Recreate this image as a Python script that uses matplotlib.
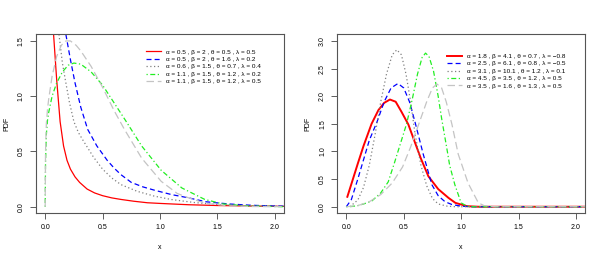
import matplotlib
matplotlib.use("Agg")
from matplotlib import pyplot as plt

plt.rcParams['font.family'] = ['Liberation Sans', 'DejaVu Sans']

# left panel curves
l1_x = [0.073, 0.10, 0.13, 0.16, 0.19, 0.22, 0.26, 0.30, 0.365, 0.43, 0.50, 0.58, 0.66, 0.77, 0.89, 1.0, 1.25, 1.5, 1.75, 2.0, 2.1]
l1_y = [1.56, 1.15, 0.77, 0.55, 0.42, 0.34, 0.27, 0.22, 0.16, 0.125, 0.10, 0.08, 0.066, 0.05, 0.036, 0.03, 0.018, 0.011, 0.007, 0.004, 0.003]

l2_x = [0.18, 0.22, 0.26, 0.31, 0.37, 0.45, 0.54, 0.60, 0.66, 0.75, 0.85, 0.95, 1.1, 1.25, 1.4, 1.6, 1.8, 2.0, 2.1]
l2_y = [1.56, 1.33, 1.12, 0.90, 0.70, 0.55, 0.42, 0.35, 0.29, 0.22, 0.18, 0.15, 0.11, 0.08, 0.045, 0.025, 0.013, 0.007, 0.005]

l3_x = [0.12, 0.15, 0.175, 0.21, 0.25, 0.29, 0.33, 0.42, 0.50, 0.58, 0.66, 0.80, 0.95, 1.1, 1.3, 1.5, 1.75, 2.0, 2.1]
l3_y = [1.56, 1.30, 1.15, 0.95, 0.77, 0.67, 0.60, 0.45, 0.34, 0.26, 0.20, 0.14, 0.096, 0.065, 0.038, 0.02, 0.01, 0.005, 0.004]

l4_x = [0.0, 0.003, 0.01, 0.02, 0.03, 0.06, 0.10, 0.15, 0.20, 0.25, 0.31, 0.40, 0.50, 0.60, 0.70, 0.84, 1.01, 1.19, 1.39, 1.55, 1.75, 2.1]
l4_y = [0.0, 0.40, 0.65, 0.78, 0.85, 1.00, 1.12, 1.22, 1.28, 1.30, 1.29, 1.22, 1.10, 0.94, 0.78, 0.55, 0.33, 0.17, 0.066, 0.025, 0.007, 0.0]

l5_x = [0.0, 0.003, 0.01, 0.02, 0.03, 0.06, 0.10, 0.14, 0.18, 0.22, 0.27, 0.31, 0.40, 0.50, 0.60, 0.69, 0.84, 1.01, 1.15, 1.25, 1.4, 1.6, 1.8, 2.1]
l5_y = [0.0, 0.50, 0.75, 0.88, 0.97, 1.18, 1.36, 1.46, 1.50, 1.50, 1.46, 1.41, 1.27, 1.08, 0.87, 0.70, 0.44, 0.23, 0.12, 0.08, 0.03, 0.008, 0.002, 0.0]

left_labels = ["α = 0.5 , β = 2 , θ = 0.5 , λ = 0.5",
               "α = 0.5 , β = 2 , θ = 1.6 , λ = 0.2",
               "α = 0.6 , β = 1.5 , θ = 0.7 , λ = 0.4",
               "α = 1.1 , β = 1.5 , θ = 1.2 , λ = 0.2",
               "α = 1.1 , β = 1.5 , θ = 1.2 , λ = 0.5"]

# right panel curves
r1_x = [0.009, 0.05, 0.10, 0.15, 0.22, 0.28, 0.33, 0.38, 0.43, 0.48, 0.54, 0.60, 0.65, 0.715, 0.80, 0.89, 0.95, 1.05, 1.15, 2.1]
r1_y = [0.18, 0.45, 0.78, 1.10, 1.50, 1.75, 1.88, 1.94, 1.90, 1.72, 1.49, 1.15, 0.87, 0.55, 0.32, 0.16, 0.07, 0.01, 0.0, 0.0]

r2_x = [0.0, 0.044, 0.10, 0.15, 0.20, 0.27, 0.33, 0.39, 0.45, 0.50, 0.55, 0.60, 0.67, 0.745, 0.80, 0.86, 0.92, 1.0, 1.1, 2.1]
r2_y = [0.0, 0.13, 0.50, 0.85, 1.20, 1.55, 1.90, 2.15, 2.23, 2.15, 1.90, 1.52, 0.95, 0.40, 0.20, 0.09, 0.04, 0.01, 0.0, 0.0]

r3_x = [0.03, 0.10, 0.15, 0.20, 0.25, 0.30, 0.35, 0.40, 0.44, 0.48, 0.52, 0.56, 0.60, 0.65, 0.70, 0.75, 0.80, 0.88, 0.95, 2.1]
r3_y = [0.0, 0.12, 0.35, 0.75, 1.30, 1.90, 2.40, 2.75, 2.84, 2.75, 2.40, 1.90, 1.30, 0.75, 0.38, 0.15, 0.05, 0.01, 0.0, 0.0]

r4_x = [0.0, 0.05, 0.10, 0.15, 0.22, 0.30, 0.365, 0.42, 0.48, 0.525, 0.575, 0.62, 0.66, 0.69, 0.72, 0.76, 0.80, 0.83, 0.88, 0.90, 0.945, 1.0, 1.05, 1.1, 2.1]
r4_y = [0.0, 0.005, 0.02, 0.05, 0.10, 0.25, 0.45, 0.80, 1.20, 1.50, 1.95, 2.40, 2.70, 2.78, 2.72, 2.45, 2.00, 1.60, 1.00, 0.75, 0.40, 0.07, 0.01, 0.0, 0.0]

r5_x = [0.0, 0.10, 0.20, 0.30, 0.40, 0.49, 0.56, 0.63, 0.70, 0.75, 0.79, 0.83, 0.87, 0.92, 0.975, 1.06, 1.15, 1.2, 1.3, 2.1]
r5_y = [0.0, 0.02, 0.09, 0.22, 0.43, 0.72, 1.08, 1.49, 1.90, 2.15, 2.22, 2.15, 1.90, 1.49, 0.95, 0.43, 0.07, 0.02, 0.0, 0.0]

right_labels = ["α = 1.8 , β = 4.1 , θ = 0.7 , λ = −0.8",
                "α = 2.5 , β = 6.1 , θ = 0.8 , λ = −0.5",
                "α = 3.1 , β = 10.1 , θ = 1.2 , λ = 0.1",
                "α = 4.5 , β = 3.5 , θ = 1.2 , λ = 0.5",
                "α = 3.5 , β = 1.6 , θ = 1.3 , λ = 0.5"]

colors = ["#ff0000", "#0000ff", "#808080", "#22ee22", "#c4c4c4"]
styles = ["-", (0, (4, 2.5)), (0, (1, 2)), (0, (1, 2, 4, 2)), (0, (6, 3))]

fig = plt.figure(figsize=(6.02, 2.58), dpi=100)
ax1 = fig.add_axes([0.0598, 0.173, 0.412, 0.694])
ax2 = fig.add_axes([0.560, 0.173, 0.412, 0.694])

left = [(l1_x, l1_y), (l2_x, l2_y), (l3_x, l3_y), (l4_x, l4_y), (l5_x, l5_y)]
right = [(r1_x, r1_y), (r2_x, r2_y), (r3_x, r3_y), (r4_x, r4_y), (r5_x, r5_y)]

for i, (xs, ys) in enumerate(left):
    ax1.plot(xs, ys, color=colors[i], linestyle=styles[i], lw=0.9, label=left_labels[i])
for i, (xs, ys) in enumerate(right):
    ax2.plot(xs, ys, color=colors[i], linestyle=styles[i], lw=1.4 if i == 0 else 0.9, label=right_labels[i])

for ax, ymax, yt, ly in [(ax1, 1.5, [0.0, 0.5, 1.0, 1.5], 0.935),
                          (ax2, 3.0, [0.0, 0.5, 1.0, 1.5, 2.0, 2.5, 3.0], 0.91)]:
    ax.set_xlim(-0.08, 2.08)
    ax.set_ylim(-0.04 * ymax, ymax * 1.04)
    ax.set_xticks([0.0, 0.5, 1.0, 1.5, 2.0])
    ax.set_xticklabels(["0.0", "0.5", "1.0", "1.5", "2.0"])
    ax.set_yticks(yt)
    ax.set_yticklabels(["%.1f" % v for v in yt], rotation=90, va="center")
    ax.tick_params(labelsize=5, length=4, width=0.6, color="#444444", pad=4)
    for s in ax.spines.values():
        s.set_linewidth(0.8)
        s.set_color("#555555")
    ax.set_xlabel("x", fontsize=5, labelpad=9)
    ax.set_ylabel("PDF", fontsize=5)
    ax.yaxis.set_label_coords(-0.105, 0.5)
    ax.legend(loc="upper left", bbox_to_anchor=(0.43, ly), frameon=False, fontsize=4.6,
              handlelength=2.4, handletextpad=0.7, labelspacing=0.3, borderpad=0)

fig.savefig("out.png", dpi=100)
